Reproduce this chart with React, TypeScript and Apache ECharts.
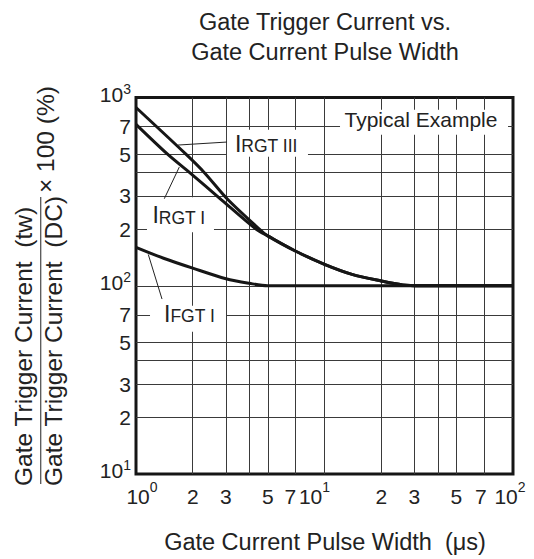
import React, { useEffect, useRef } from "react";
import * as echarts from "echarts";

// ---------- data (pulse width in µs, ratio in %) ----------
const rgt3PulseWidth = [1, 1.84, 2.3, 3.07, 4.51, 5, 7, 10, 14, 20, 26, 32, 100];
const rgt3Ratio = [885, 500, 400, 287, 200, 184, 153, 130, 115, 106, 101, 100, 100];
const rgt1PulseWidth = [1, 1.47, 1.92, 2.83, 4.33, 5, 7, 10, 14, 20, 26, 32, 100];
const rgt1Ratio = [720, 500, 400, 287, 200, 184, 153, 130, 115, 106, 101, 100, 100];
const fgt1PulseWidth = [1, 1.4, 2, 3, 4, 5, 100];
const fgt1Ratio = [160, 140, 124, 109, 103, 100, 100];

const xGridValues = [2, 3, 4, 5, 7, 10, 20, 30, 40, 50, 70];
const xLabelValues = [1, 2, 3, 5, 7, 10, 20, 30, 50, 70, 100];
const yGridValues = [20, 30, 40, 50, 70, 100, 200, 300, 400, 500, 700];
const yLabelValues = [10, 20, 30, 50, 70, 100, 200, 300, 500, 700, 1000];

const titleLines = ["Gate Trigger Current vs.", "Gate Current Pulse Width"];
const xAxisName = "Gate Current Pulse Width  (\u03bcs)";
const yNameTop = "Gate Trigger Current  (tw)";
const yNameBottom = "Gate Trigger Current  (DC)";
const yNameFactor = "\u00d7 100 (%)";

// annotation anchors in data space
const curveLabels = [
  { main: "I", sub: "RGT III", at: [3.35, 515], leader: [[3.04, 580], [1.67, 559]] },
  { main: "I", sub: "RGT I", at: [1.223, 215], leader: [[1.413, 290], [1.697, 427]] },
  { main: "I", sub: "FGT I", at: [1.408, 64.4], leader: [[1.374, 85], [1.162, 146.6]] },
];
const curveLabelBoxes = [
  [-8, -22, 81, 27],
  [-5.5, -26, 67, 35],
  [-14, -16, 76, 26],
];
const noteText = "Typical Example";
const noteAt = [12.77, 700];
const noteBox = [-4.5, -17, 168, 25];

// x label horizontal nudges (px), keyed by tick value
const xLabelShift: Record<number, number> = { 1: 6, 7: -5, 10: -10, 70: -3, 100: -3 };

// ---------- styles ----------
const FONT = '"Liberation Sans", Arial, Helvetica, sans-serif';
const INK = "#222222";
const GRID = "#3a3a3a";

const L = (v: number) => Math.log10(v);
const isPow = (v: number) => Math.abs(v - Math.round(v)) < 1e-6;
const mant = (v: number) => Math.round(Math.pow(10, v - Math.floor(v + 1e-9)));
const pairs = (xs: number[], ys: number[]) => xs.map((x, i) => [L(x), L(ys[i])]);

const tok = (fs: number, extra: any = {}) => ({
  fontSize: fs,
  lineHeight: 24,
  fontFamily: FONT,
  color: INK,
  verticalAlign: "bottom",
  ...extra,
});

function buildXRich() {
  const rich: any = { n: tok(21), s: tok(14, { padding: [0, 0, 13, 0] }) };
  Object.keys(xLabelShift).forEach((k) => {
    const d = xLabelShift[Number(k)];
    const pad = Math.abs(d) * 2;
    rich["n" + k] = tok(21, { padding: d > 0 ? [0, 0, 0, pad] : [0, pad, 0, 0] });
    rich["s" + k] = tok(14, { padding: d > 0 ? [0, 0, 13, 0] : [0, pad, 13, 0] });
  });
  return rich;
}

function xFormatter(v: number) {
  const raw = Math.round(Math.pow(10, v));
  const d = xLabelShift[raw];
  if (isPow(v)) {
    const nb = d && d > 0 ? "n" + raw : "n";
    const sb = d && d < 0 ? "s" + raw : "s";
    return `{${nb}|10}{${sb}|${Math.round(v)}}`;
  }
  const key = d ? "n" + raw : "n";
  return `{${key}|${mant(v)}}`;
}

function yFormatter(v: number) {
  if (isPow(v)) return `{yb|10}{ys|${Math.round(v)}}`;
  return `{yd|${mant(v)}}`;
}

const lineSeries = (name: string, xs: number[], ys: number[]) => ({
  name,
  type: "line",
  data: pairs(xs, ys),
  symbol: "none",
  showSymbol: false,
  smooth: 0.3,
  silent: true,
  lineStyle: { color: "#161616", width: 3 },
  z: 3,
});

const option: any = {
  animation: false,
  backgroundColor: "#ffffff",
  grid: {
    left: 136,
    top: 97.5,
    width: 377,
    height: 376.5,
    show: true,
    borderColor: "#161616",
    borderWidth: 3,
    backgroundColor: "transparent",
    containLabel: false,
    outerBoundsMode: "none",
  },
  xAxis: {
    type: "value",
    min: 0,
    max: 2,
    axisLine: { show: false },
    axisTick: { show: false, customValues: xGridValues.map(L) },
    splitLine: { show: true, lineStyle: { color: GRID, width: 1 } },
    axisLabel: {
      customValues: xLabelValues.map(L),
      formatter: xFormatter,
      margin: 33,
      verticalAlign: "bottom",
      showMaxLabel: true,
      showMinLabel: true,
      rich: buildXRich(),
    },
  },
  yAxis: {
    type: "value",
    min: 1,
    max: 3,
    axisLine: { show: false },
    axisTick: { show: false, customValues: yGridValues.map(L) },
    splitLine: { show: true, lineStyle: { color: GRID, width: 1 } },
    axisLabel: {
      customValues: yLabelValues.map(L),
      formatter: yFormatter,
      margin: 5,
      align: "right",
      showMaxLabel: true,
      showMinLabel: true,
      rich: {
        yb: tok(21, { padding: [0, 0, 5, 0] }),
        ys: tok(14, { padding: [0, 0, 14, 0] }),
        yd: tok(21, { verticalAlign: "middle" }),
      },
    },
  },
  series: [
    lineSeries("IRGT III", rgt3PulseWidth, rgt3Ratio),
    lineSeries("IRGT I", rgt1PulseWidth, rgt1Ratio),
    lineSeries("IFGT I", fgt1PulseWidth, fgt1Ratio),
  ],
};

const CENTRAL = 0.3465; // central-baseline offset (em) for Liberation Sans

export default function App() {
  const ref = useRef<HTMLDivElement>(null);
  useEffect(() => {
    const el = ref.current;
    if (!el) return;
    const chart = echarts.init(el, undefined, { renderer: "svg", width: 534, height: 559 });
    chart.setOption(option);

    const toPx = (p: number[]) =>
      chart.convertToPixel({ gridIndex: 0 } as any, [L(p[0]), L(p[1])]) as number[];

    const els: any[] = [];
    const plainText = (text: string, x: number, y: number, fs: number, extra: any = {}) => ({
      type: "text",
      x,
      y,
      silent: true,
      z: 20,
      ...extra,
      style: {
        text,
        fill: INK,
        fontSize: fs,
        fontFamily: FONT,
        align: "center",
        verticalAlign: "middle",
        ...(extra.style || {}),
      },
    });

    // title
    els.push(plainText(titleLines[0], 325, 30 - CENTRAL * 23.5, 23.5));
    els.push(plainText(titleLines[1], 325, 59.8 - CENTRAL * 23.5, 23.5));
    // x axis name
    els.push(plainText(xAxisName, 325, 550 - CENTRAL * 23.5, 23.5));
    // y axis name (rotated)
    const yfs = 24.5;
    els.push(plainText(yNameTop, 31.7 - CENTRAL * yfs, 486, yfs, { rotation: Math.PI / 2, style: { align: "left" } }));
    els.push(plainText(yNameBottom, 62 - CENTRAL * yfs, 486, yfs, { rotation: Math.PI / 2, style: { align: "left" } }));
    els.push(plainText(yNameFactor, 53.7 - CENTRAL * yfs, 193, yfs, { rotation: Math.PI / 2, style: { align: "left" } }));
    els.push({
      type: "line",
      silent: true,
      z: 20,
      shape: { x1: 40.7, y1: 484, x2: 40.7, y2: 197 },
      style: { stroke: "#555", lineWidth: 1.3 },
    });

    // curve labels
    curveLabels.forEach((c, i) => {
      const [ax, ay] = toPx(c.at);
      const b = curveLabelBoxes[i];
      els.push({
        type: "rect",
        silent: true,
        z: 15,
        shape: { x: ax + b[0], y: ay + b[1], width: b[2], height: b[3] },
        style: { fill: "#ffffff" },
      });
      els.push({
        type: "text",
        x: ax,
        y: ay + 3.5,
        silent: true,
        z: 20,
        style: {
          text: `{m|${c.main}}{s|${c.sub}}`,
          align: "left",
          verticalAlign: "bottom",
          rich: {
            m: { fontSize: 23, lineHeight: 23, fontFamily: FONT, fill: INK, color: INK, verticalAlign: "bottom" },
            s: { fontSize: 17.5, lineHeight: 17.5, fontFamily: FONT, fill: INK, color: INK, verticalAlign: "bottom" },
          },
        },
      });
      const p1 = toPx(c.leader[0]);
      const p2 = toPx(c.leader[1]);
      els.push({
        type: "line",
        silent: true,
        z: 20,
        shape: { x1: p1[0], y1: p1[1], x2: p2[0], y2: p2[1] },
        style: { stroke: INK, lineWidth: 1 },
      });
    });

    // note
    const [nx, ny] = toPx(noteAt);
    els.push({
      type: "rect",
      silent: true,
      z: 15,
      shape: { x: nx + noteBox[0], y: ny + noteBox[1], width: noteBox[2], height: noteBox[3] },
      style: { fill: "#ffffff" },
    });
    els.push(plainText(noteText, nx, ny - CENTRAL * 21, 21, { style: { align: "left" } }));

    chart.setOption({ graphic: { elements: els } });
    return () => chart.dispose();
  }, []);

  return (
    <div
      ref={ref}
      style={{ position: "absolute", left: 0, top: 0, width: 534, height: 559, background: "#fff" }}
    />
  );
}
